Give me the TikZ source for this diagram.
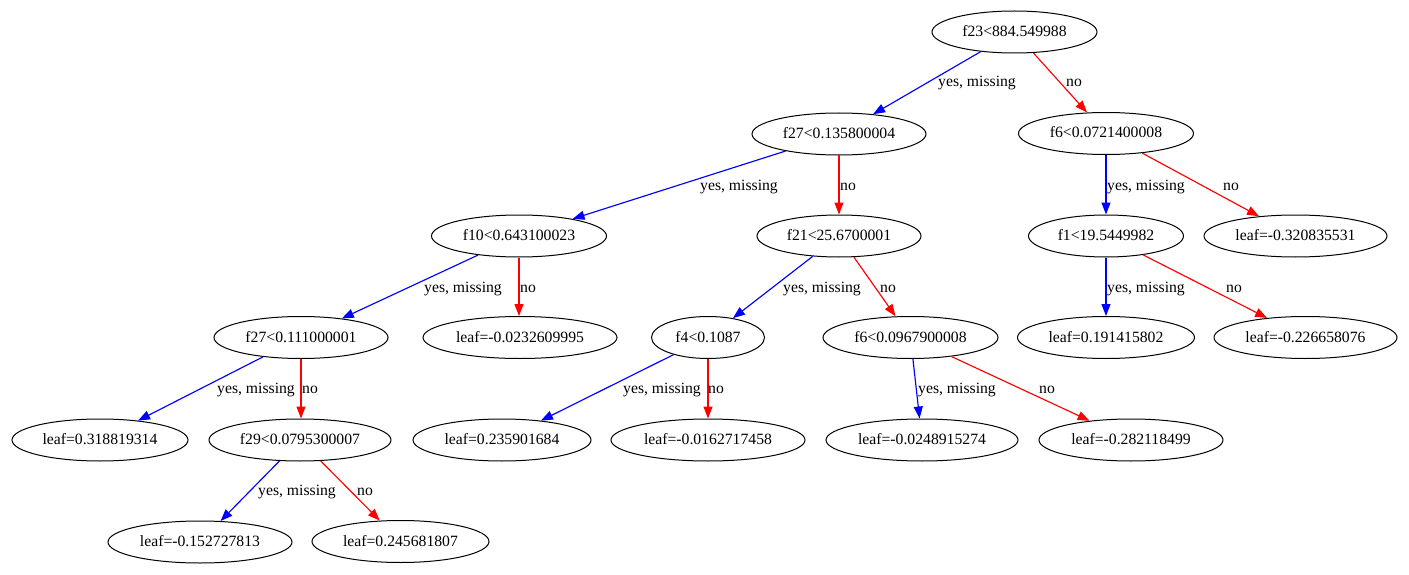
\documentclass[tikz,border=0pt]{standalone}
\usepackage{fontspec}
\setmainfont{Liberation Serif}
\usetikzlibrary{shapes.geometric,arrows.meta}
\definecolor{edgeblue}{RGB}{0,0,255}
\definecolor{edgered}{RGB}{255,0,0}
\tikzset{
  tnode/.style={ellipse, draw=black, line width=1pt, inner sep=0pt,
    minimum height=42pt, text height=12pt, text depth=3pt,
    font=\fontsize{15.7}{18}\selectfont},
  yesedge/.style={draw=edgeblue, line width=1.15pt, -{Triangle[length=12pt,width=9pt]}},
  noedge/.style={draw=edgered, line width=1.15pt, -{Triangle[length=12pt,width=9pt]}},
  elabel/.style={anchor=base, inner sep=0pt, font=\fontsize{15.7}{18}\selectfont}
}
\begin{document}
\begin{tikzpicture}[x=1pt,y=-1pt]
\useasboundingbox[fill=white] (0,0) rectangle (1409,575);
% nodes
\node[tnode, minimum width=165pt] (n0) at (1014.5,32) {f23<884.549988};
\node[tnode, minimum width=174pt] (n1) at (839,134) {f27<0.135800004};
\node[tnode, minimum width=175pt] (n2) at (1106,133.5) {f6<0.0721400008};
\node[tnode, minimum width=175pt] (n3) at (519,236) {f10<0.643100023};
\node[tnode, minimum width=164pt] (n4) at (839,236) {f21<25.6700001};
\node[tnode, minimum width=155pt] (n5) at (1106,236) {f1<19.5449982};
\node[tnode, minimum width=183pt] (n6) at (1295.5,236) {leaf=-0.320835531};
\node[tnode, minimum width=174pt] (n7) at (301,337.5) {f27<0.111000001};
\node[tnode, minimum width=194pt] (n8) at (520,337.5) {leaf=-0.0232609995};
\node[tnode, minimum width=113pt] (n9) at (708,337.5) {f4<0.1087};
\node[tnode, minimum width=175pt] (n10) at (910.5,337.5) {f6<0.0967900008};
\node[tnode, minimum width=177pt] (n11) at (1106,337.5) {leaf=0.191415802};
\node[tnode, minimum width=183pt] (n12) at (1305.5,337.5) {leaf=-0.226658076};
\node[tnode, minimum width=176pt] (n13) at (100,440) {leaf=0.318819314};
\node[tnode, minimum width=182pt] (n14) at (300,440) {f29<0.0795300007};
\node[tnode, minimum width=178pt] (n15) at (502,440) {leaf=0.235901684};
\node[tnode, minimum width=194pt] (n16) at (708,440) {leaf=-0.0162717458};
\node[tnode, minimum width=192pt] (n17) at (922,440) {leaf=-0.0248915274};
\node[tnode, minimum width=184pt] (n18) at (1131,440) {leaf=-0.282118499};
\node[tnode, minimum width=184pt] (n19) at (200,542) {leaf=-0.152727813};
\node[tnode, minimum width=177pt] (n20) at (400.5,541.5) {leaf=0.245681807};
% edges
\draw[yesedge] (n0) -- (n1);
\draw[noedge] (n0) -- (n2);
\draw[yesedge] (n1) -- (n3);
\draw[noedge] (n1) -- (n4);
\draw[yesedge] (n2) -- (n5);
\draw[noedge] (n2) -- (n6);
\draw[yesedge] (n3) -- (n7);
\draw[noedge] (n3.south) -- (n8.north -| n3.south);
\draw[yesedge] (n4) -- (n9);
\draw[noedge] (n4) -- (n10);
\draw[yesedge] (n5) -- (n11);
\draw[noedge] (n5) -- (n12);
\draw[yesedge] (n7) -- (n13);
\draw[noedge] (n7.south) -- (n14.north -| n7.south);
\draw[yesedge] (n9) -- (n15);
\draw[noedge] (n9) -- (n16);
\draw[yesedge] (n10) -- (n17);
\draw[noedge] (n10) -- (n18);
\draw[yesedge] (n14) -- (n19);
\draw[noedge] (n14) -- (n20);
% edge labels
\node[elabel] (l1) at (977,87) {yes, missing};
\node[elabel] (l2) at (1074,87) {no};
\node[elabel] (l3) at (739,190) {yes, missing};
\node[elabel] (l4) at (848,190) {no};
\node[elabel] (l5) at (1146,190) {yes, missing};
\node[elabel] (l6) at (1231,190) {no};
\node[elabel] (l7) at (463,292) {yes, missing};
\node[elabel] (l8) at (528,292) {no};
\node[elabel] (l9) at (822,292) {yes, missing};
\node[elabel] (l10) at (888,292) {no};
\node[elabel] (l11) at (1146,292) {yes, missing};
\node[elabel] (l12) at (1234,292) {no};
\node[elabel] (l13) at (256,393) {yes, missing};
\node[elabel] (l14) at (310,393) {no};
\node[elabel] (l15) at (662,393) {yes, missing};
\node[elabel] (l16) at (716,393) {no};
\node[elabel] (l17) at (957,393) {yes, missing};
\node[elabel] (l18) at (1047,393) {no};
\node[elabel] (l19) at (297,495) {yes, missing};
\node[elabel] (l20) at (365,495) {no};
\end{tikzpicture}
\end{document}
